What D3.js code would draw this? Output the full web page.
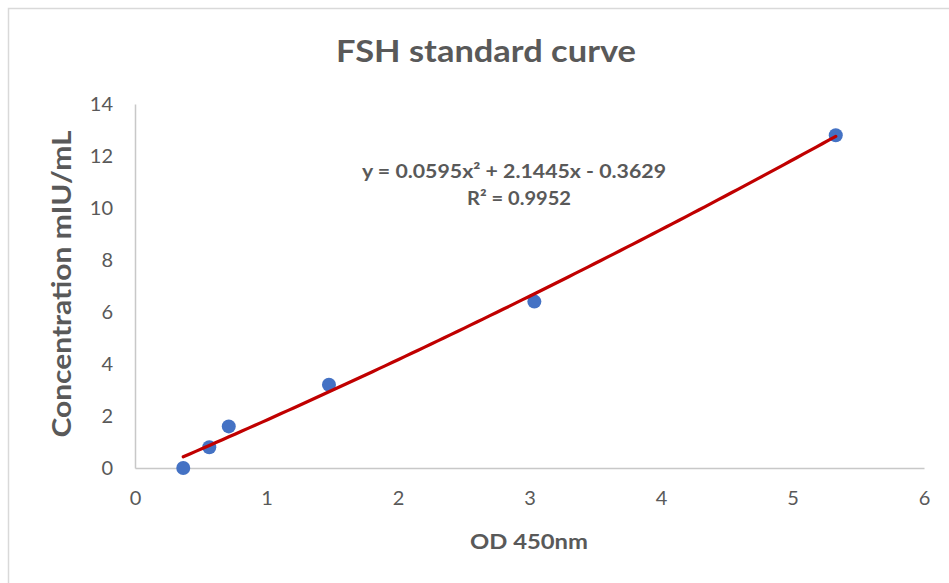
<!DOCTYPE html>
<html><head><meta charset="utf-8">
<script src="https://cdn.jsdelivr.net/npm/d3@7/dist/d3.min.js"></script>
<style>body{margin:0;background:#fff}svg{display:block}text{font-family:Lato,"Open Sans",sans-serif;fill:#595959}</style>
</head><body><svg id="c" width="949" height="583"></svg>
<script>
const odValues = [0.367, 0.565, 0.713, 1.475, 3.037, 5.329];
const concValues = [0, 0.8, 1.6, 3.2, 6.4, 12.8];
const trendCoefs = [-0.3629, 2.1445, 0.0595]; // c0 + c1 x + c2 x^2
const xTicks = [0,1,2,3,4,5,6];
const yTicks = [0,2,4,6,8,10,12,14];
const title = "FSH standard curve";
const xTitle = "OD 450nm";
const yTitle = "Concentration mIU/mL";

const svg = d3.select("#c");
svg.append("rect").attr("x",8.5).attr("y",8.5).attr("width",960).attr("height",600)
  .attr("fill","none").attr("stroke","#d9d9d9").attr("stroke-width",1.5);

const x = d3.scaleLinear().domain([0,6]).range([135,924]);
const y = d3.scaleLinear().domain([0,14]).range([468,104]);

// axes
const xa = svg.append("g").attr("transform","translate(0,468)")
  .call(d3.axisBottom(x).tickValues(xTicks).tickSize(0).tickPadding(23).tickFormat(d3.format("d")));
const ya = svg.append("g").attr("transform","translate(135,0)")
  .call(d3.axisLeft(y).tickValues(yTicks).tickSize(0).tickPadding(22).tickFormat(d3.format("d")));
[xa,ya].forEach(g=>{
  g.select(".domain").attr("stroke","#c8c8c8").attr("stroke-width",1.5);
  g.selectAll("text").style("font-family","Lato,'Open Sans',sans-serif").attr("font-size",20).attr("fill","#595959");
});
xa.selectAll("text").attr("dy","0.71em");

// points
svg.append("g").selectAll("circle").data(odValues.map((v,i)=>[v,concValues[i]])).join("circle")
  .attr("cx",d=>x(d[0])).attr("cy",d=>y(d[1])).attr("r",7).attr("fill","#4472C4");

// trendline
const xs = d3.range(0,101).map(i=>odValues[0]+(odValues[odValues.length-1]-odValues[0])*i/100);
svg.append("path").datum(xs)
  .attr("d",d3.line().x(v=>x(v)).y(v=>y(trendCoefs[0]+trendCoefs[1]*v+trendCoefs[2]*v*v)))
  .attr("fill","none").attr("stroke","#C00000").attr("stroke-width",3.2).attr("stroke-linecap","round");

// texts
svg.append("text").attr("x",486).attr("y",62).attr("text-anchor","middle")
  .attr("font-size",30).attr("font-weight","bold").attr("textLength",300).attr("lengthAdjust","spacingAndGlyphs").text(title);
svg.append("text").attr("x",529).attr("y",549).attr("text-anchor","middle")
  .attr("font-size",21).attr("font-weight","bold").attr("textLength",118).attr("lengthAdjust","spacingAndGlyphs").text(xTitle);
svg.append("text").attr("transform","translate(71,284) rotate(-90)").attr("text-anchor","middle")
  .attr("font-size",26).attr("font-weight","bold").attr("textLength",307).attr("lengthAdjust","spacingAndGlyphs").text(yTitle);

svg.append("text").attr("x",514).attr("y",178).attr("text-anchor","middle")
  .attr("font-size",19).attr("font-weight","bold").attr("textLength",304).attr("lengthAdjust","spacingAndGlyphs")
  .text("y = "+trendCoefs[2].toFixed(4)+"x²"+" + "+trendCoefs[1].toFixed(4)+"x - "+Math.abs(trendCoefs[0]).toFixed(4));
svg.append("text").attr("x",519).attr("y",205).attr("text-anchor","middle")
  .attr("font-size",19).attr("font-weight","bold").attr("textLength",104).attr("lengthAdjust","spacingAndGlyphs").text("R² = 0.9952");
</script></body></html>
